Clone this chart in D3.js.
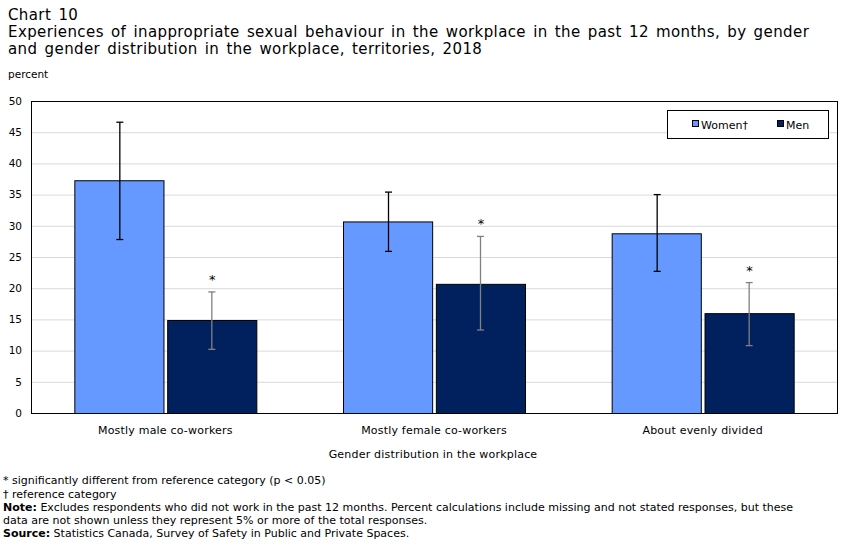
<!DOCTYPE html>
<html>
<head>
<meta charset="utf-8">
<script src="https://cdn.jsdelivr.net/npm/d3@7"></script>
<style>
  body { margin: 0; background: #fff; }
  text { font-family: "DejaVu Sans", sans-serif; fill: #000; }
</style>
</head>
<body>
<div class="chart"></div>
<script>
// data
var categories = ['Mostly male co-workers', 'Mostly female co-workers', 'About evenly divided'];
var seriesNames = ['Women\u2020', 'Men'];
var women = [37.3, 30.7, 28.8];
var womenLow = [27.8, 25.9, 22.7];
var womenHigh = [46.6, 35.4, 35.0];
var men = [14.9, 20.7, 16.0];
var menLow = [10.2, 13.3, 10.8];
var menHigh = [19.4, 28.3, 20.9];
var menSig = [true, true, true];
var yTicks = [0, 5, 10, 15, 20, 25, 30, 35, 40, 45, 50];

var colors = ['#6699ff', '#00215e'];
var errColors = ['#000', '#808080'];

var svg_width = 852, svg_height = 549,
    svg = d3.select('.chart').append('svg').attr('width', svg_width).attr('height', svg_height),
    margin = {top: 101, right: 15, bottom: 136, left: 31},
    width = svg_width - margin.left - margin.right,
    height = svg_height - margin.top - margin.bottom;

var rows = categories.map(function(c, i) {
  return [
    {k: c, s: 0, v: women[i], lo: womenLow[i], hi: womenHigh[i], sig: false},
    {k: c, s: 1, v: men[i], lo: menLow[i], hi: menHigh[i], sig: menSig[i]}
  ];
});

// titles
var titles = svg.append('g').style('font-size', '15px')
  .style('letter-spacing', '0.4px').style('word-spacing', '2px');
titles.append('text').attr('x', 8).attr('y', 20).text('Chart 10');
titles.append('text').attr('x', 8).attr('y', 37).text('Experiences of inappropriate sexual behaviour in the workplace in the past 12 months, by gender');
titles.append('text').attr('x', 8).attr('y', 54).text('and gender distribution in the workplace, territories, 2018');
svg.append('text').attr('x', 8).attr('y', 78).style('font-size', '10.5px').text('percent');

var g = svg.append('g').attr('transform', 'translate(' + margin.left + ',' + margin.top + ')');

var x = d3.scaleBand().domain(categories).range([0, width]).paddingInner(0).paddingOuter(0);
var xs = d3.scaleBand().domain([0, 1]).range([0, 182]).paddingInner(0.04);
var y = d3.scaleLinear().domain([0, 50]).range([height, 0]);

// gridlines
g.append('g').selectAll('line').data(yTicks.slice(1)).enter().append('line')
  .attr('x1', 0).attr('x2', width)
  .attr('y1', function(d) { return y(d) + 0.5; }).attr('y2', function(d) { return y(d) + 0.5; })
  .attr('stroke', '#d9d9d9');

// y axis labels
g.append('g').attr('class', 'axis axis-y')
  .call(d3.axisLeft(y).tickValues(yTicks).tickSize(0).tickPadding(9))
  .call(function(a) { a.select('.domain').remove(); })
  .selectAll('text').style('font-size', '10.5px').style('font-family', '"DejaVu Sans", sans-serif');

// bars
var groups = g.selectAll('.grp').data(rows).enter().append('g')
  .attr('class', 'grp')
  .attr('transform', function(d, i) { return 'translate(' + (x(categories[i]) + (x.bandwidth() - 182) / 2) + ',0)'; });

groups.selectAll('.bar').data(function(d) { return d; }).enter().append('rect')
  .attr('class', 'bar')
  .attr('x', function(d) { return xs(d.s) + 0.5; })
  .attr('y', function(d) { return y(d.v) + 0.5; })
  .attr('width', xs.bandwidth())
  .attr('height', function(d) { return height - y(d.v); })
  .attr('fill', function(d) { return colors[d.s]; })
  .attr('stroke', '#000');

// error bars
var eb = groups.selectAll('.err').data(function(d) { return d; }).enter().append('g')
  .attr('class', 'err')
  .attr('stroke', function(d) { return errColors[d.s]; })
  .attr('stroke-width', 1.3);
eb.append('line')
  .attr('x1', function(d) { return Math.round(xs(d.s) + xs.bandwidth() / 2) + 0.5; })
  .attr('x2', function(d) { return Math.round(xs(d.s) + xs.bandwidth() / 2) + 0.5; })
  .attr('y1', function(d) { return y(d.hi); }).attr('y2', function(d) { return y(d.lo); });
eb.selectAll('.cap').data(function(d) { return [d.lo, d.hi].map(function(v) { return {s: d.s, v: v}; }); })
  .enter().append('line')
  .attr('x1', function(d) { return Math.round(xs(d.s) + xs.bandwidth() / 2) - 3; })
  .attr('x2', function(d) { return Math.round(xs(d.s) + xs.bandwidth() / 2) + 4; })
  .attr('y1', function(d) { return y(d.v); }).attr('y2', function(d) { return y(d.v); });

// significance stars
groups.selectAll('.star').data(function(d) { return d.filter(function(r) { return r.sig; }); }).enter().append('text')
  .attr('x', function(d) { return xs(d.s) + xs.bandwidth() / 2 + 0.5; })
  .attr('y', function(d) { return y(d.hi) - 8; })
  .attr('text-anchor', 'middle')
  .style('font-size', '13px')
  .text('*');

// plot border
g.append('rect').attr('x', 0.5).attr('y', 0.5).attr('width', width).attr('height', height)
  .attr('fill', 'none').attr('stroke', '#000');

// x axis labels
g.append('g').attr('class', 'axis axis-x')
  .attr('transform', 'translate(0,' + height + ')')
  .call(d3.axisBottom(x).tickSize(0).tickPadding(13))
  .call(function(a) { a.select('.domain').remove(); })
  .selectAll('text').style('font-size', '11px').style('letter-spacing', '0.2px')
  .style('font-family', '"DejaVu Sans", sans-serif');

svg.append('text').attr('x', 433).attr('y', 458).attr('text-anchor', 'middle')
  .style('font-size', '11px').style('letter-spacing', '0.2px').text('Gender distribution in the workplace');

// legend
var lg = svg.append('g').attr('transform', 'translate(667,110)');
lg.append('rect').attr('x', 0.5).attr('y', 0.5).attr('width', 161).attr('height', 28)
  .attr('fill', '#fff').attr('stroke', '#000');
var li = lg.selectAll('.li').data(seriesNames).enter().append('g')
  .attr('transform', function(d, i) { return 'translate(' + [25, 110][i] + ',0)'; });
li.append('rect').attr('x', 0.5).attr('y', 10.5).attr('width', 6).attr('height', 6)
  .attr('fill', function(d, i) { return colors[i]; }).attr('stroke', '#000');
li.append('text').attr('x', 9).attr('y', 19).style('font-size', '11px')
  .style('font-family', '"DejaVu Sans", sans-serif').text(function(d) { return d; });

// notes
var notes = svg.append('g').style('font-size', '11px');
var noteLines = [
  [['', '* significantly different from reference category (p < 0.05)']],
  [['', '\u2020 reference category']],
  [['Note:', ' Excludes respondents who did not work in the past 12 months. Percent calculations include missing and not stated responses, but these']],
  [['', 'data are not shown unless they represent 5% or more of the total responses.']],
  [['Source:', ' Statistics Canada, Survey of Safety in Public and Private Spaces.']]
];
var noteY = [484, 498, 511, 524, 537];
noteLines.forEach(function(line, i) {
  var t = notes.append('text').attr('x', 3).attr('y', noteY[i]);
  line.forEach(function(p) {
    if (p[0]) t.append('tspan').style('font-weight', 'bold').text(p[0]);
    t.append('tspan').text(p[1]);
  });
});
</script>
</body>
</html>
